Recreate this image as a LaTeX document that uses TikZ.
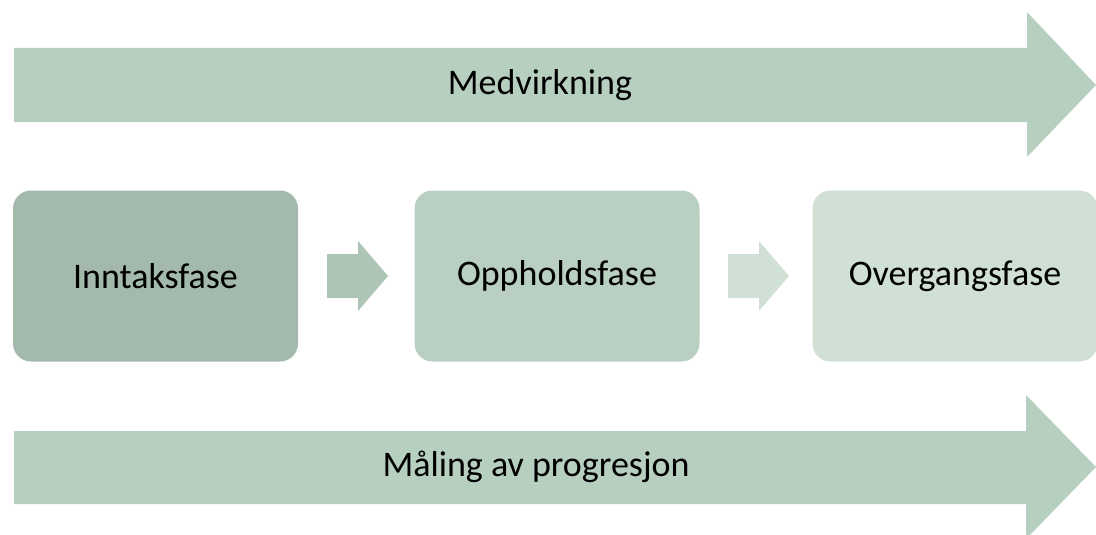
\documentclass[tikz,border=0pt]{standalone}
\usepackage{fontspec}
\setmainfont{Carlito}
\usepackage{tikz}

\definecolor{bandgreen}{HTML}{B6CFBF}
\definecolor{fasedark}{HTML}{A3B9AB}
\definecolor{fasemid}{HTML}{B9CFC1}
\definecolor{faselight}{HTML}{D0E0D5}
\definecolor{pilmid}{HTML}{ACC5B5}

\begin{document}
\begin{tikzpicture}
      [x=1pt,y=-1pt,fase/.style={rectangle,rounded corners=18pt,minimum width=285pt,minimum height=171pt,inner sep=0pt},
       tekst/.style={font=\fontsize{36}{43}\selectfont,text=black}]
        \useasboundingbox (0,0) rectangle (1096,535);

        % store piler
        \fill[bandgreen] (14,48) -- (1027,48) -- (1027,12) -- (1096,85) -- (1027,157) -- (1027,122) -- (14,122) -- cycle;
        \fill[bandgreen] (14,431) -- (1026,431) -- (1026,395) -- (1096,467) -- (1026,539) -- (1026,504) -- (14,504) -- cycle;
        \node[tekst] (medvirkning) at (540,85) {Medvirkning};
        \node[tekst] (maling) at (536,467) {Måling av progresjon};

        % faser
        \node[fase,fill=fasedark] (inntak) at (155.5,276) {};
        \node[fase,fill=fasemid] (opphold) at (557,276) {};
        \node[fase,fill=faselight] (overgang) at (955,276) {};
        \node[tekst] at (inntak) {Inntaksfase};
        \node[tekst] at (opphold) {Oppholdsfase};
        \node[tekst] at (overgang) {Overgangsfase};

        % små piler
        \fill[pilmid] (327,254) -- (358,254) -- (358,241) -- (388,276) -- (358,311) -- (358,298) -- (327,298) -- cycle;
        \fill[faselight] (728,254) -- (759,254) -- (759,241) -- (789,276) -- (759,311) -- (759,298) -- (728,298) -- cycle;

      \end{tikzpicture}
\end{document}
